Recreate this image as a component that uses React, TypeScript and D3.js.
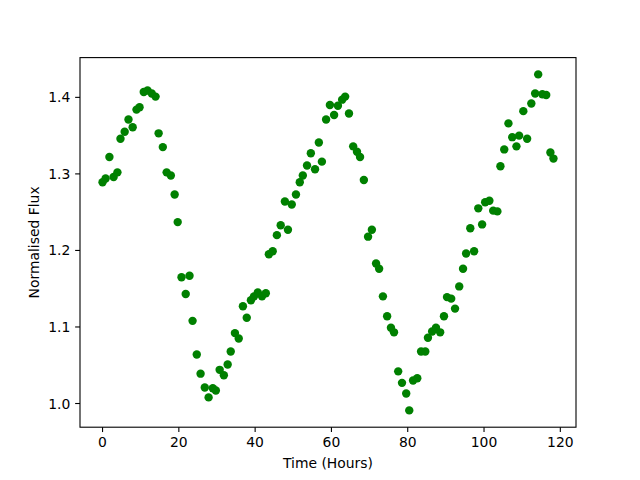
import React from "react";
import * as d3 from "d3";

const timeHours = [
  0, 0.8, 1.8, 2.9, 3.9, 4.7, 5.8, 6.8, 7.9, 8.9,
  9.7, 10.8, 11.8, 12.9, 13.9, 14.7, 15.8, 16.8, 17.9, 18.9,
  19.7, 20.7, 21.8, 22.8, 23.6, 24.7, 25.7, 26.8, 27.8, 28.9,
  29.7, 30.7, 31.8, 32.8, 33.6, 34.7, 35.7, 36.8, 37.8, 38.9,
  39.7, 40.7, 41.8, 42.8, 43.6, 44.6, 45.7, 46.7, 47.8, 48.6,
  49.6, 50.7, 51.7, 52.5, 53.6, 54.6, 55.7, 56.7, 57.5, 58.6,
  59.6, 60.7, 61.7, 62.8, 63.6, 64.6, 65.7, 66.7, 67.5, 68.5,
  69.6, 70.6, 71.7, 72.5, 73.5, 74.6, 75.6, 76.4, 77.5, 78.5,
  79.6, 80.4, 81.4, 82.5, 83.5, 84.6, 85.3, 86.4, 87.4, 88.5,
  89.5, 90.3, 91.4, 92.4, 93.5, 94.5, 95.3, 96.4, 97.4, 98.5,
  99.5, 100.3, 101.4, 102.4, 103.5, 104.3, 105.3, 106.4, 107.4, 108.5,
  109.2, 110.3, 111.3, 112.4, 113.4, 114.2, 115.3, 116.3, 117.4, 118.2,
];

const normalisedFlux = [
  1.289, 1.294, 1.322, 1.296, 1.302, 1.346, 1.355, 1.371, 1.361, 1.384,
  1.387, 1.407, 1.409, 1.405, 1.401, 1.353, 1.335, 1.302, 1.298, 1.273,
  1.237, 1.165, 1.143, 1.167, 1.108, 1.064, 1.039, 1.021, 1.008, 1.020,
  1.017, 1.044, 1.037, 1.051, 1.068, 1.092, 1.085, 1.127, 1.112, 1.135,
  1.140, 1.145, 1.140, 1.144, 1.195, 1.199, 1.220, 1.233, 1.264, 1.227,
  1.260, 1.273, 1.289, 1.298, 1.311, 1.327, 1.306, 1.341, 1.316, 1.371,
  1.390, 1.377, 1.389, 1.397, 1.401, 1.379, 1.336, 1.329, 1.322, 1.292,
  1.218, 1.227, 1.183, 1.176, 1.140, 1.114, 1.099, 1.093, 1.042, 1.027,
  1.013, 0.991, 1.030, 1.033, 1.068, 1.068, 1.086, 1.094, 1.099, 1.093,
  1.114, 1.139, 1.137, 1.124, 1.153, 1.176, 1.196, 1.229, 1.199, 1.255,
  1.234, 1.263, 1.265, 1.252, 1.251, 1.310, 1.332, 1.366, 1.348, 1.336,
  1.350, 1.382, 1.346, 1.392, 1.405, 1.430, 1.404, 1.403, 1.328, 1.320,
];

const xTicks = [0, 20, 40, 60, 80, 100, 120];
const yTicks = [1.0, 1.1, 1.2, 1.3, 1.4];
const xLabel = "Time (Hours)";
const yLabel = "Normalised Flux";

const W = 640;
const H = 480;
const left = 80;
const right = 576;
const top = 57.6;
const bottom = 427.2;
const font = "DejaVu Sans, sans-serif";

function pad(ext: [number, number]): [number, number] {
  const r = ext[1] - ext[0];
  return [ext[0] - 0.05 * r, ext[1] + 0.05 * r];
}

export default function App() {
  const xExt = d3.extent(timeHours) as [number, number];
  const yExt = d3.extent(normalisedFlux) as [number, number];
  const x = d3.scaleLinear().domain(pad(xExt)).range([left, right]);
  const y = d3.scaleLinear().domain(pad(yExt)).range([bottom, top]);
  const tickLen = 4.86;
  const lw = 1.1;

  return (
    <div style={{ position: "absolute", left: 0, top: 0 }}>
      <svg width={W} height={H} style={{ display: "block", background: "#fff" }}>
        <rect x={0} y={0} width={W} height={H} fill="#fff" />
        {timeHours.map((t, i) => (
          <circle key={i} cx={x(t)} cy={y(normalisedFlux[i])} r={4.2} fill="#008000" />
        ))}
        <rect x={left} y={top} width={right - left} height={bottom - top} fill="none" stroke="#000" strokeWidth={lw} />
        {xTicks.map((t) => (
          <g key={"x" + t}>
            <line x1={x(t)} x2={x(t)} y1={bottom} y2={bottom + tickLen} stroke="#000" strokeWidth={lw} />
            <text x={x(t)} y={bottom + tickLen + 4.9 + 10.5} textAnchor="middle" fontFamily={font} fontSize={13.9} fill="#000">
              {d3.format("d")(t)}
            </text>
          </g>
        ))}
        {yTicks.map((t) => (
          <g key={"y" + t}>
            <line x1={left - tickLen} x2={left} y1={y(t)} y2={y(t)} stroke="#000" strokeWidth={lw} />
            <text x={left - tickLen - 4.9} y={y(t)} dy="0.36em" textAnchor="end" fontFamily={font} fontSize={13.9} fill="#000">
              {d3.format(".1f")(t)}
            </text>
          </g>
        ))}
        <text x={(left + right) / 2} y={468} textAnchor="middle" fontFamily={font} fontSize={13.9} fill="#000">
          {xLabel}
        </text>
        <text
          transform={`translate(39, ${(top + bottom) / 2}) rotate(-90)`}
          textAnchor="middle"
          fontFamily={font}
          fontSize={13.9}
          fill="#000"
        >
          {yLabel}
        </text>
      </svg>
    </div>
  );
}
